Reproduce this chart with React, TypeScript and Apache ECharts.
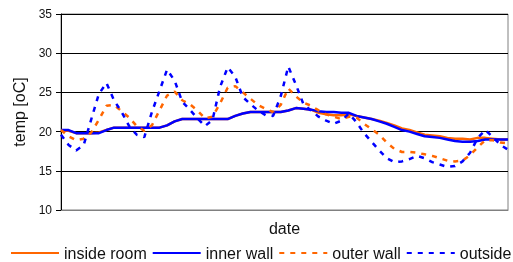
import React, { useEffect, useRef } from "react";
import * as echarts from "echarts";

const seriesNames = ["inside room", "inner wall", "outer wall", "outside"];

const insideRoom = [
  20.1, 20.1, 19.8, 19.8, 19.8, 19.9, 20.2, 20.5, 20.5, 20.5,
  20.5, 20.5, 20.5, 20.5, 20.8, 21.3, 21.6, 21.6, 21.6, 21.6,
  21.6, 21.6, 21.6, 22.0, 22.3, 22.5, 22.5, 22.5, 22.5, 22.5,
  22.7, 23.0, 22.9, 22.8, 22.4, 22.2, 22.1, 22.1, 22.2, 22.0,
  21.8, 21.6, 21.4, 21.1, 20.8, 20.4, 20.2, 19.9, 19.6, 19.5,
  19.4, 19.2, 19.1, 19.1, 19.0, 19.2, 19.2, 19.1, 19.0, 19.0,
];

const innerWall = [
  20.2, 20.2, 19.8, 19.8, 19.8, 19.8, 20.2, 20.5, 20.5, 20.5,
  20.5, 20.5, 20.5, 20.5, 20.8, 21.3, 21.6, 21.6, 21.6, 21.6,
  21.6, 21.6, 21.6, 22.0, 22.3, 22.5, 22.5, 22.5, 22.5, 22.5,
  22.7, 23.0, 22.9, 22.8, 22.6, 22.5, 22.5, 22.4, 22.4, 22.0,
  21.8, 21.6, 21.3, 21.0, 20.6, 20.2, 20.0, 19.7, 19.4, 19.3,
  19.2, 19.0, 18.8, 18.7, 18.7, 18.8, 19.0, 19.0, 19.0, 19.0,
];

const outerWall = [
  20.2, 19.4, 18.9, 19.1, 19.9, 21.5, 23.3, 23.4, 22.6, 21.8,
  20.7, 20.1, 20.8, 22.7, 24.6, 25.1, 24.0, 23.5, 22.7, 21.7,
  21.9, 23.6, 25.6, 25.8, 25.0, 24.2, 23.4, 22.9, 22.5, 23.4,
  25.5, 24.5, 23.7, 23.3, 22.7, 22.2, 21.9, 21.6, 21.9, 21.8,
  21.0, 20.3, 19.6, 18.6, 17.8, 17.4, 17.4, 17.3, 17.1, 16.9,
  16.6, 16.3, 16.2, 16.3, 17.0, 18.0, 18.9, 18.9, 18.6, 18.5,
];

const outside = [
  19.6, 18.3, 17.6, 18.3, 21.6, 24.8, 26.2, 24.0, 22.5, 20.7,
  19.6, 19.3, 22.5, 25.2, 27.9, 26.5, 23.8, 22.8, 21.7, 20.7,
  21.5, 25.7, 28.2, 27.0, 24.4, 23.5, 22.7, 22.1, 22.0, 24.5,
  28.3, 26.0, 23.5, 22.7, 21.9, 21.4, 21.0, 21.4, 22.3, 21.2,
  19.8, 18.7, 17.6, 16.6, 16.1, 16.2, 16.5, 16.9, 16.6, 16.1,
  15.8, 15.5, 15.6, 16.2, 17.3, 19.2, 20.2, 19.3, 18.3, 17.7,
];

const dates = insideRoom.map((_, i) => String(i));

const yMin = 10;
const yMax = 35;
const yInterval = 5;

const ORANGE = "#FF6600";
const BLUE = "#0000FF";
const FONT = "Liberation Sans, Arial, sans-serif";

export default function App() {
  const ref = useRef<HTMLDivElement>(null);

  useEffect(() => {
    if (!ref.current) return;
    const chart = echarts.init(ref.current, undefined, { renderer: "svg" });
    const solid = (name: string, data: number[], color: string, w: number) => ({
      name,
      type: "line",
      data,
      symbol: "none",
      lineStyle: { color, width: w, type: "solid" },
      itemStyle: { color, opacity: 0 },
    });
    const dashed = (name: string, data: number[], color: string) => ({
      name,
      type: "line",
      data,
      symbol: "none",
      lineStyle: { color, width: 2.5, type: [5, 6] },
      itemStyle: { color, opacity: 0 },
    });
    chart.setOption({
      animation: false,
      textStyle: { fontFamily: FONT },
      grid: {
        left: 61,
        right: 5,
        top: 14,
        bottom: 52,
        show: true,
        borderColor: "#808080",
        borderWidth: 1,
      },
      legend: {
        left: 10,
        top: 245,
        width: 503,
        padding: 0,
        itemWidth: 48,
        itemHeight: 14,
        itemGap: 5,
        data: seriesNames,
        itemStyle: { opacity: 0 },
        textStyle: { fontSize: 16, color: "#111", fontFamily: FONT },
      },
      xAxis: {
        type: "category",
        data: dates,
        boundaryGap: false,
        name: "date",
        nameLocation: "middle",
        nameGap: 10,
        nameTextStyle: { fontSize: 16, color: "#111", fontFamily: FONT },
        axisLine: { show: true, lineStyle: { color: "#808080" } },
        axisTick: { show: false },
        axisLabel: { show: false },
        splitLine: { show: false },
      },
      yAxis: {
        type: "value",
        min: yMin,
        max: yMax,
        interval: yInterval,
        name: "temp [oC]",
        nameLocation: "middle",
        nameGap: 27,
        nameTextStyle: { fontSize: 16, color: "#111", fontFamily: FONT },
        axisLine: { show: true, lineStyle: { color: "#000", width: 1 } },
        axisTick: { show: true, length: 5, lineStyle: { color: "#000" } },
        axisLabel: { fontSize: 12, color: "#111", margin: 9, fontFamily: FONT },
        splitLine: { show: true, lineStyle: { color: "#000", width: 1 } },
      },
      series: [
        solid(seriesNames[0], insideRoom, ORANGE, 2.5),
        solid(seriesNames[1], innerWall, BLUE, 2.5),
        dashed(seriesNames[2], outerWall, ORANGE),
        dashed(seriesNames[3], outside, BLUE),
      ],
    });
    return () => chart.dispose();
  }, []);

  return (
    <div
      ref={ref}
      style={{ position: "fixed", left: 0, top: 0, width: 513, height: 262 }}
    />
  );
}
